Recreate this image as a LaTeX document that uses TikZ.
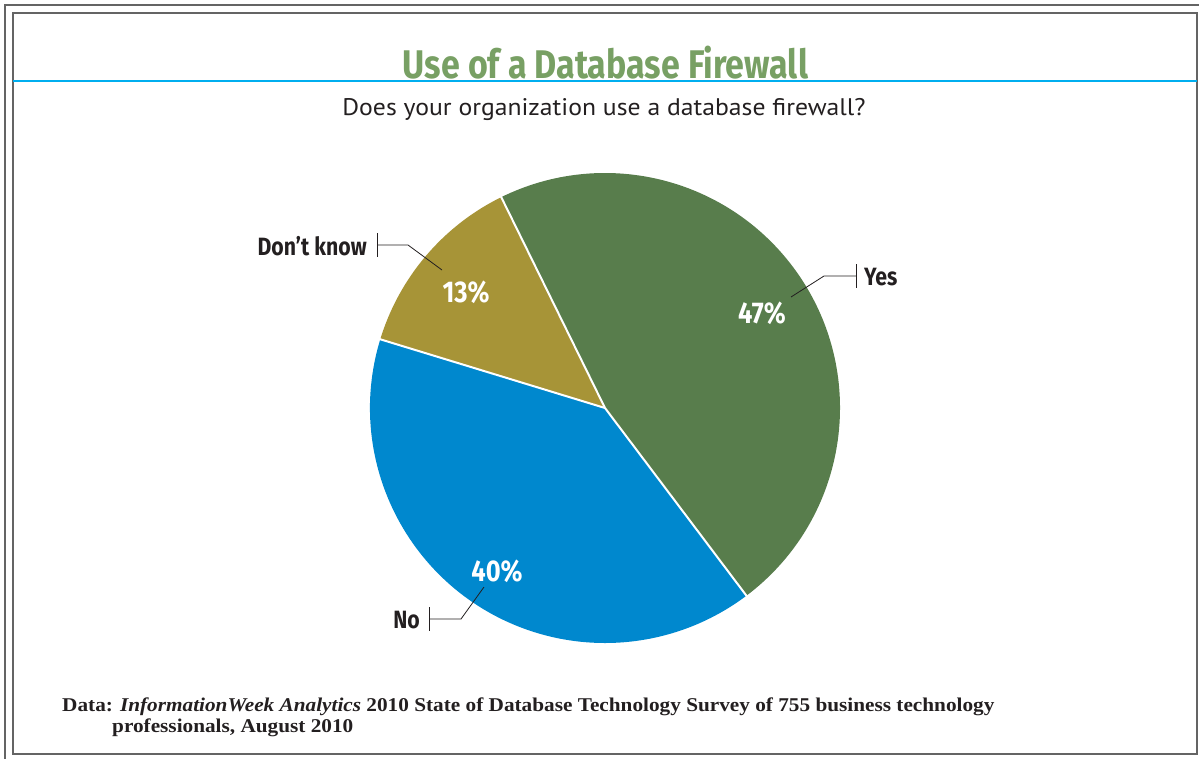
\documentclass[tikz,border=0pt]{standalone}
\usepackage{fontspec}
\usepackage{xcolor}
\usepackage{tikz}
\usetikzlibrary{positioning}

\setmainfont{Liberation Serif}
\newfontfamily\condfont[FakeStretch=0.85]{Fira Sans}
\newfontfamily\subfont[FakeStretch=1.07]{PT Sans}
\newfontfamily\notefont[FakeStretch=1.09]{Liberation Serif}

\definecolor{framegray}{RGB}{100,100,100}
\definecolor{rulecyan}{RGB}{0,174,239}
\definecolor{titlegreen}{RGB}{120,160,100}
\definecolor{yesgreen}{RGB}{88,125,76}
\definecolor{dkolive}{RGB}{167,148,55}
\definecolor{noblue}{RGB}{0,136,206}
\definecolor{inkdark}{RGB}{35,31,32}

\begin{document}
\begin{tikzpicture}[x=1pt, y=1pt,
  pct/.style={font=\condfont\bfseries\fontsize{30}{32}\selectfont, text=white, inner sep=0},
  callout/.style={font=\condfont\bfseries\fontsize{25}{27}\selectfont, text=inkdark, inner sep=0},
  leader/.style={inkdark, line width=0.8pt},
  footnote/.style={font=\notefont\bfseries\fontsize{19.5}{21}\selectfont, text=inkdark, inner sep=0, anchor=base west}]
  \clip (0,0) rectangle (1199,-758);
  \draw[framegray, line width=1.5pt] (5,-5) rectangle (1230,-790);
  \draw[framegray, line width=1.5pt] (13,-13) rectangle (1197,-754);
  \draw[rulecyan, line width=2.5pt] (13,-81) -- (1197,-81);
  \node[font=\condfont\bfseries\fontsize{40}{42}\selectfont, text=titlegreen, inner sep=0, anchor=base] (title) at (605.5,-78) {Use of a Database Firewall};
  \node[font=\subfont\fontsize{24}{26}\selectfont, text=inkdark, inner sep=0, anchor=base] (question) at (604,-115) {Does your organization use a database firewall?};
  % pie
  \coordinate (ctr) at (605,-408);
  \fill[yesgreen] (ctr) -- ++(-53:235) arc[start angle=-53, end angle=116.2, radius=235] -- cycle;
  \fill[dkolive] (ctr) -- ++(116.2:235) arc[start angle=116.2, end angle=163, radius=235] -- cycle;
  \fill[noblue] (ctr) -- ++(163:235) arc[start angle=163, end angle=307, radius=235] -- cycle;
  \draw[white, line width=2pt] (ctr) -- ++(-53:236);
  \draw[white, line width=2pt] (ctr) -- ++(116.2:236);
  \draw[white, line width=2pt] (ctr) -- ++(163:236);
  \node[pct] (yespct) at (762,-313) {47\%};
  \node[pct] (dkpct) at (466,-292) {13\%};
  \node[pct] (nopct) at (497,-571) {40\%};
  % callouts
  \node[callout, anchor=east] (dklabel) at (367,-246) {Don’t know};
  \coordinate (dktick) at (377,-245);
  \coordinate (dkbend) at (408,-245);
  \coordinate (dkend) at (442,-270);
  \draw[leader] (dktick) ++(0,12) -- ++(0,-24);
  \draw[leader] (dktick) -- (dkbend) -- (dkend);
  \node[callout, anchor=west] (yeslabel) at (864,-277) {Yes};
  \coordinate (yestick) at (856,-276);
  \coordinate (yesbend) at (824,-276);
  \coordinate (yesend) at (791,-297);
  \draw[leader] (yestick) ++(0,12) -- ++(0,-24);
  \draw[leader] (yestick) -- (yesbend) -- (yesend);
  \node[callout, anchor=east] (nolabel) at (420,-620) {No};
  \coordinate (notick) at (429,-619);
  \coordinate (nobend) at (461,-619);
  \coordinate (noend) at (484,-587);
  \draw[leader] (notick) ++(0,12) -- ++(0,-24);
  \draw[leader] (notick) -- (nobend) -- (noend);
  % source
  \node[footnote] (source) at (62,-711) {Data: \textit{InformationWeek Analytics} 2010 State of Database Technology Survey of 755 business technology};
  \node[footnote] (source2) at (112,-732) {professionals, August 2010};
\end{tikzpicture}
\end{document}
